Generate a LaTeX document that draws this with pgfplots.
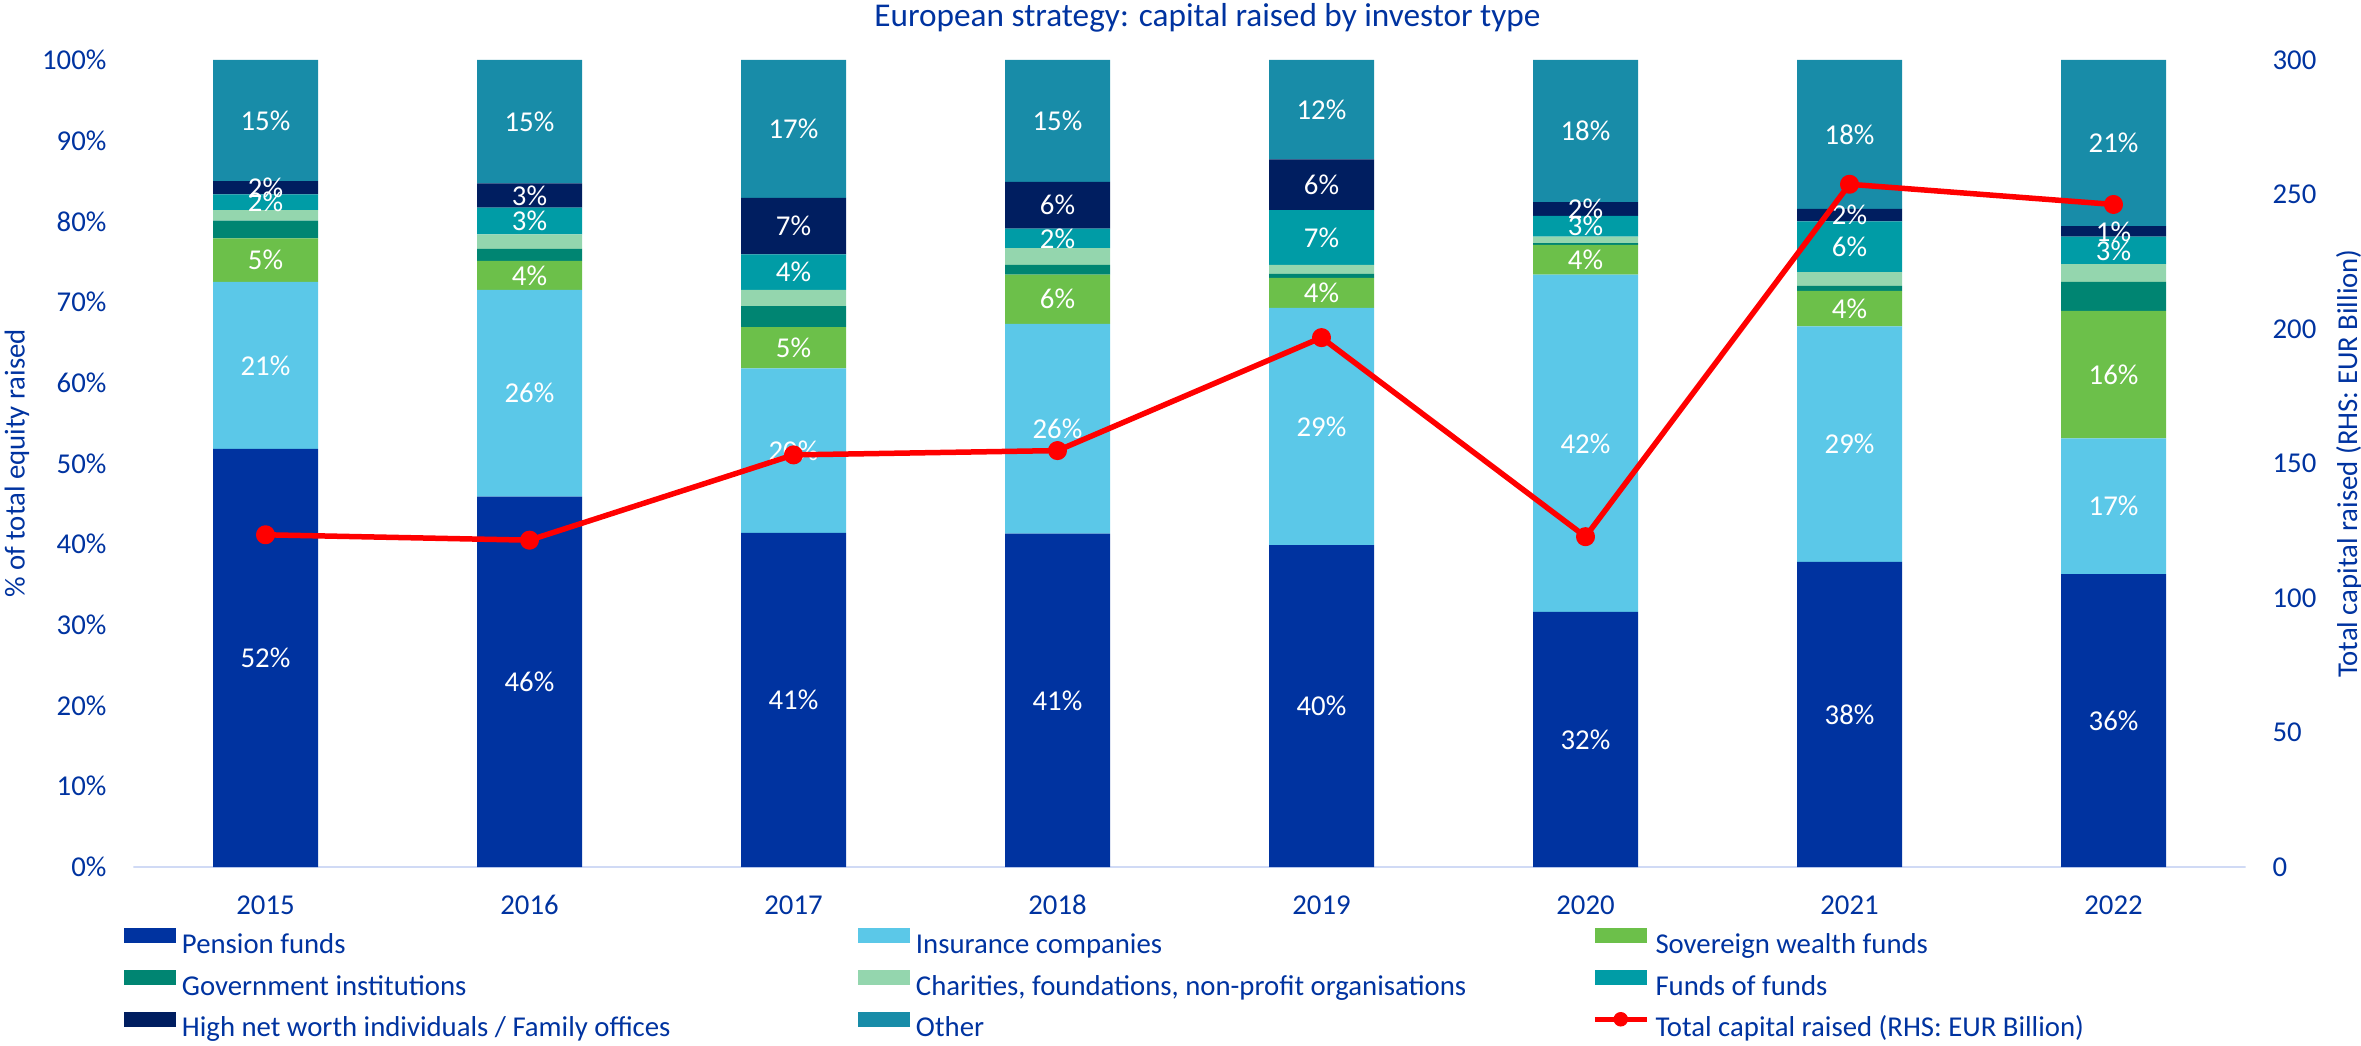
\documentclass[border=0pt]{standalone}
\usepackage{fontspec}
\setmainfont{Carlito}
\usepackage{pgfplots}
\usepackage{pgfplotstable}
\pgfplotsset{compat=1.18}
\pgfkeys{/pgf/number format/assume math mode=true}

\definecolor{txtblue}{RGB}{0,51,160}
\definecolor{cPension}{RGB}{0,51,160}
\definecolor{cInsur}{RGB}{91,200,232}
\definecolor{cSov}{RGB}{108,192,74}
\definecolor{cGov}{RGB}{0,133,114}
\definecolor{cChar}{RGB}{148,214,174}
\definecolor{cFoF}{RGB}{0,156,166}
\definecolor{cHNW}{RGB}{0,30,96}
\definecolor{cOther}{RGB}{24,140,168}
\definecolor{axisline}{RGB}{208,218,245}

% shares of total equity raised (%), per year
\pgfplotstableread{
x P    I    S    G   C   F    H    O
0 51.8 20.7 5.4  2.2 1.3 1.95 1.65 15.0
1 45.9 25.6 3.6  1.5 1.8 3.3  3.0  15.3
2 41.4 20.4 5.1  2.6 2.0 4.4  7.0  17.1
3 41.3 26.0 6.1  1.2 2.1 2.4  5.8  15.1
4 39.9 29.4 3.7  0.5 1.1 6.8  6.3  12.3
5 31.6 41.8 3.7  0.2 0.8 2.6  1.7  17.6
6 37.8 29.2 4.4  0.6 1.7 6.3  1.55 18.45
7 36.3 16.8 15.8 3.6 2.2 3.4  1.3  20.6
}\shares

\newcommand{\fnt}{\fontsize{11.5}{13}\selectfont}
\newcommand{\lentry}[1]{\makebox[272.8pt][l]{\rule[-3.5pt]{0pt}{13pt}\hspace{2.4pt}#1}}

\pgfplotsset{
  base/.style={
    scale only axis, width=844.8pt, height=322.8pt,
    xmin=-0.5, xmax=7.5,
    font=\fnt,
    tick style={draw=none}, major tick length=0pt,
    axis line style={draw=none},
    tick label style={text=txtblue},
    label style={text=txtblue},
  },
  lbl/.style={draw=none, mark=none, point meta=explicit,
    nodes near coords={\pgfmathprintnumber[fixed,precision=0]{\pgfplotspointmeta}\%},
    nodes near coords align={center},
    every node near coord/.append style={text=white, font=\fnt, anchor=center}},
}

\begin{document}
\begin{tikzpicture}
\path[use as bounding box] (-53.4pt,-71.2pt) rectangle (891pt,346.8pt);

\begin{axis}[base,
  ybar stacked, bar width=42pt,
  ymin=0, ymax=100,
  xtick={0,...,7}, xticklabels={2015,2016,2017,2018,2019,2020,2021,2022},
  xticklabel style={anchor=base, yshift=-18.8pt},
  ytick={0,10,...,100}, yticklabel={\pgfmathprintnumber{\tick}\%},
  yticklabel style={xshift=-7.3pt},
  ylabel={\% of total equity raised},
  ylabel style={at={(axis description cs:-0.0552,0.5)}, anchor=center},
  title={European strategy: capital raised by investor type},
  title style={at={(axis description cs:0.5085,1)}, anchor=base, yshift=7.2pt, text=txtblue, font=\fontsize{13.3}{15}\selectfont},
  legend columns=3,
  legend cell align=left,
  legend image code/.code={\draw[#1,/tikz/.cd,draw=none] (0pt,0pt) rectangle (20.8pt,6pt);},
  legend style={at={(axis description cs:0,0)}, anchor=north west, xshift=-3.8pt, yshift=-24.5pt,
    draw=none, fill=none, inner sep=0pt, outer sep=0pt, column sep=0pt, row sep=5.2pt,
    nodes={inner sep=0pt, outer sep=0pt, text=txtblue, font=\fnt}},
]
\addplot[fill=cPension, draw=none] table[x=x, y=P] {\shares};
\addplot[fill=cInsur, draw=none] table[x=x, y=I] {\shares};
\addplot[fill=cSov, draw=none] table[x=x, y=S] {\shares};
\addplot[fill=cGov, draw=none] table[x=x, y=G] {\shares};
\addplot[fill=cChar, draw=none] table[x=x, y=C] {\shares};
\addplot[fill=cFoF, draw=none] table[x=x, y=F] {\shares};
\addplot[fill=cHNW, draw=none] table[x=x, y=H] {\shares};
\addplot[fill=cOther, draw=none] table[x=x, y=O] {\shares};
\addlegendentry{\lentry{Pension funds}}
\addlegendentry{\lentry{Insurance companies}}
\addlegendentry{\lentry{Sovereign wealth funds}}
\addlegendentry{\lentry{Government institutions}}
\addlegendentry{\lentry{Charities, foundations, non-profit organisations}}
\addlegendentry{\lentry{Funds of funds}}
\addlegendentry{\lentry{High net worth individuals / Family offices}}
\addlegendentry{\lentry{Other}}
\addlegendimage{legend image code/.code={
  \draw[red, line width=2.2pt] (0pt,3pt) -- (20.8pt,3pt);
  \fill[red] (10.4pt,3pt) circle (2.7pt);}}
\addlegendentry{\lentry{Total capital raised (RHS: EUR Billion)}}
\draw[axisline, line width=0.8pt] (rel axis cs:0,0) -- (rel axis cs:1,0);
\end{axis}

% segment labels
\begin{axis}[base, ymin=0, ymax=100, hide axis]
\addplot[lbl] table[x=x, y expr=\thisrow{P}/2, meta=P] {\shares};
\addplot[lbl] table[x=x, y expr=\thisrow{P}+\thisrow{I}/2, meta=I] {\shares};
\addplot[lbl] table[x=x, y expr=\thisrow{P}+\thisrow{I}+\thisrow{S}/2, meta=S] {\shares};
\addplot[lbl] table[x=x, y expr=\thisrow{P}+\thisrow{I}+\thisrow{S}+\thisrow{G}+\thisrow{C}+\thisrow{F}/2, meta=F] {\shares};
\addplot[lbl] table[x=x, y expr=\thisrow{P}+\thisrow{I}+\thisrow{S}+\thisrow{G}+\thisrow{C}+\thisrow{F}+\thisrow{H}/2, meta=H] {\shares};
\addplot[lbl] table[x=x, y expr=100-\thisrow{O}/2, meta=O] {\shares};
\end{axis}

% total capital raised, right axis
\begin{axis}[base,
  ymin=0, ymax=300,
  xtick=\empty,
  ytick={0,50,...,300},
  yticklabel pos=right,
  yticklabel style={xshift=7.3pt},
  ylabel={Total capital raised (RHS: EUR Billion)},
  ylabel style={at={(axis description cs:1.049,0.5)}, anchor=center, rotate=0},
]
\addplot[red, line width=2.2pt, line join=round, mark=*, mark size=2.7pt, mark options={fill=red, draw=red}]
  coordinates {(0,123.5) (1,121.5) (2,153.2) (3,154.8) (4,196.8) (5,122.8) (6,253.8) (7,246.3)};
\end{axis}
\end{tikzpicture}
\end{document}
